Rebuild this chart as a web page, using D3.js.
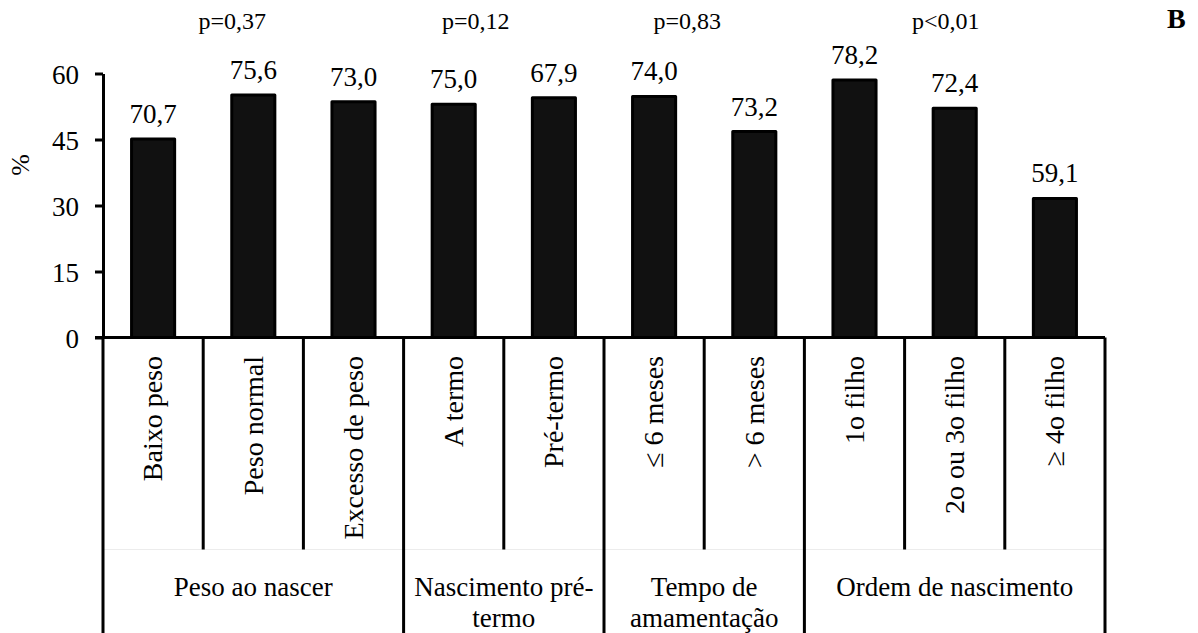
<!DOCTYPE html>
<html>
<head>
<meta charset="utf-8">
<script src="https://cdn.jsdelivr.net/npm/d3@7"></script>
<style>
  html, body { margin: 0; padding: 0; background: #fff; }
  svg { display: block; }
  text { font-family: "Liberation Serif", "Times New Roman", serif; fill: #000; }
</style>
</head>
<body>
<svg id="chart" width="1198" height="633"></svg>
<script>
// ---- data ----
const categories = ["Baixo peso", "Peso normal", "Excesso de peso", "A termo", "Pré-termo",
                    "≤ 6 meses", "> 6 meses", "1o filho", "2o ou 3o filho", "≥ 4o filho"];
const barValues = [45.1, 55.1, 53.6, 53.0, 54.5, 54.8, 46.8, 58.5, 52.1, 31.6];
const barLabels = ["70,7", "75,6", "73,0", "75,0", "67,9", "74,0", "73,2", "78,2", "72,4", "59,1"];
const groupNames = ["Peso ao nascer", "Nascimento pré-termo", "Tempo de amamentação", "Ordem de nascimento"];
const groupLines = [["Peso ao nascer"], ["Nascimento pré-", "termo"], ["Tempo de", "amamentação"], ["Ordem de nascimento"]];
const groupSizes = [3, 2, 2, 3];
const pValues = ["p=0,37", "p=0,12", "p=0,83", "p<0,01"];
const yTicks = [0, 15, 30, 45, 60];
const yLabel = "%";
const panelLetter = "B";

// ---- layout ----
const W = 1198, H = 633;
const left = 103, right = 1105, y0 = 337.5, yTop = 73.5;
const svg = d3.select("#chart");

const x = d3.scaleBand().domain(categories).range([left, right]).paddingInner(0).paddingOuter(0);
const y = d3.scaleLinear().domain([0, 60]).range([y0, yTop]);
const bw = x.bandwidth();
const barW = bw * 0.43;

// faint row separator
svg.append("line").attr("x1", left).attr("x2", right).attr("y1", 549.5).attr("y2", 549.5)
  .attr("stroke", "#ececec").attr("stroke-width", 1);

// bars
svg.append("g").selectAll("rect").data(categories).join("rect")
  .attr("x", d => x(d) + bw / 2 - barW / 2)
  .attr("y", (d, i) => y(barValues[i]))
  .attr("width", barW)
  .attr("height", (d, i) => y0 - y(barValues[i]))
  .attr("fill", "#111")
  .attr("stroke", "#000")
  .attr("stroke-width", 3)
  .attr("stroke-linejoin", "round");

// bar labels
svg.append("g").selectAll("text").data(categories).join("text")
  .attr("x", d => x(d) + bw / 2)
  .attr("y", (d, i) => y(barValues[i]) - 16)
  .attr("text-anchor", "middle")
  .attr("font-size", 27)
  .text((d, i) => barLabels[i]);

// y axis
const yAxis = d3.axisLeft(y).tickValues(yTicks).tickSize(8).tickSizeOuter(0).tickPadding(16);
const gy = svg.append("g").attr("transform", `translate(${left},0)`).call(yAxis);
gy.attr("font-family", null).attr("font-size", null);
gy.select(".domain").attr("stroke", "#000").attr("stroke-width", 3);
gy.selectAll(".tick line").attr("stroke", "#000").attr("stroke-width", 3);
gy.selectAll(".tick text").attr("font-size", 27).attr("dy", "0.38em");

// x axis baseline
svg.append("line").attr("x1", left - 8).attr("x2", right).attr("y1", y0).attr("y2", y0)
  .attr("stroke", "#000").attr("stroke-width", 3);

// category dividers
let idx = 0;
const groupStarts = [];
groupSizes.forEach(n => { groupStarts.push(idx); idx += n; });
const groupBoundaries = new Set(groupStarts.concat([categories.length]));
for (let i = 0; i <= categories.length; i++) {
  const xx = i < categories.length ? x(categories[i]) : x(categories[i - 1]) + bw;
  const full = groupBoundaries.has(i);
  svg.append("line").attr("x1", xx).attr("x2", xx).attr("y1", y0).attr("y2", full ? H : 549.5)
    .attr("stroke", "#000").attr("stroke-width", 3);
}

// category labels (rotated)
svg.append("g").selectAll("text").data(categories).join("text")
  .attr("transform", d => `translate(${x(d) + bw / 2},356) rotate(-90)`)
  .attr("text-anchor", "end")
  .attr("dy", "0.33em")
  .attr("font-size", 28)
  .text(d => d);

// group labels
groupLines.forEach((lines, g) => {
  const s = groupStarts[g];
  const e = s + groupSizes[g] - 1;
  const cx = (x(categories[s]) + x(categories[e]) + bw) / 2;
  lines.forEach((ln, k) => {
    svg.append("text").attr("x", cx).attr("y", 596 + k * 30.5)
      .attr("text-anchor", "middle").attr("font-size", 27).text(ln);
  });
});

// p-values (anchored to group, with per-label visual offset)
const pOffsets = [-21, -28, -17, -9];
pValues.forEach((p, g) => {
  const s = groupStarts[g];
  const e = s + groupSizes[g] - 1;
  const cx = (x(categories[s]) + x(categories[e]) + bw) / 2;
  svg.append("text").attr("x", cx + pOffsets[g]).attr("y", 29)
    .attr("text-anchor", "middle").attr("font-size", 24).text(p);
});

// y label
svg.append("text").attr("transform", "translate(20,165) rotate(-90)")
  .attr("text-anchor", "middle").attr("dy", "0.35em").attr("font-size", 26).text(yLabel);

// panel letter
svg.append("text").attr("x", 1167).attr("y", 28).attr("font-size", 28)
  .attr("font-weight", "bold").text(panelLetter);
</script>
</body>
</html>
